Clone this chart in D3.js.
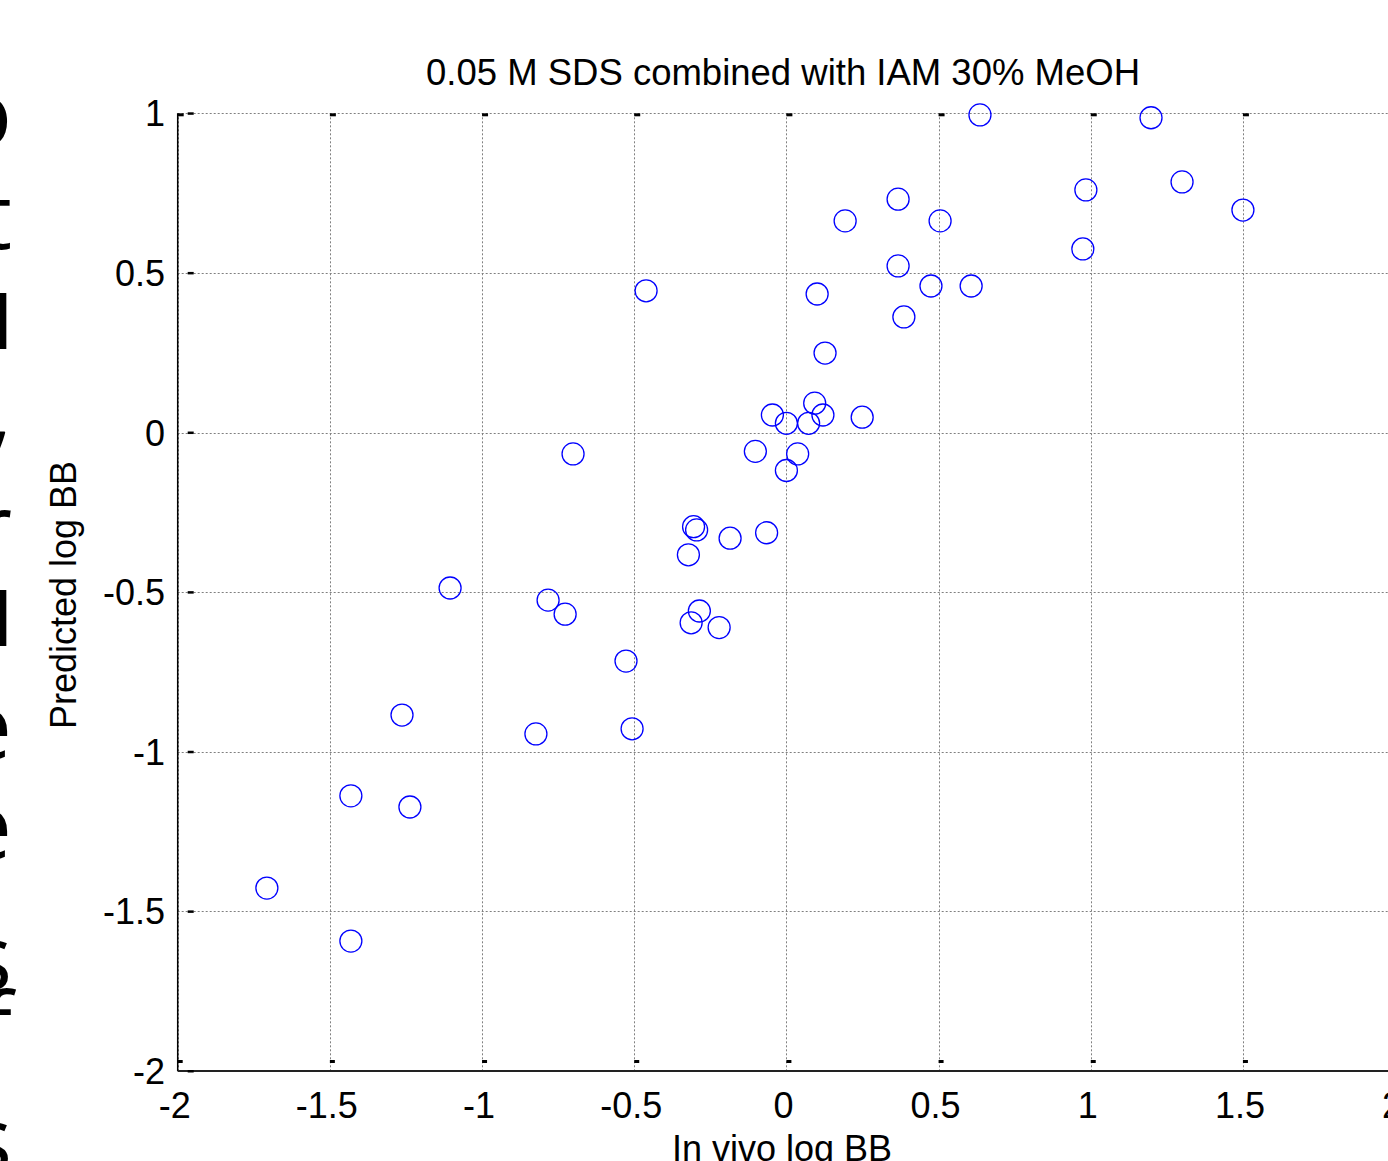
<!DOCTYPE html>
<html>
<head>
<meta charset="utf-8">
<script src="https://cdn.jsdelivr.net/npm/d3@7"></script>
<style>
  html, body { margin: 0; padding: 0; background: #fff; overflow: hidden; }
  svg { display: block; }
  text { font-family: "Liberation Sans", Arial, sans-serif; fill: #000; }
</style>
</head>
<body>
<svg id="chart" width="1388" height="1161"></svg>
<script>
// In vivo log BB (x) vs predicted log BB (y)
var inVivo = [0.636, 1.198, 1.300, 1.500, 0.984, 0.974, 0.367, 0.505, 0.193, 0.367,
  0.475, 0.607, 0.386, 0.101, 0.127, -0.461, -0.046, 0.000, 0.093, 0.073,
  0.120, 0.249, -0.701, -0.102, 0.037, 0.000, -0.305, -0.295, -0.185, -0.065,
  -0.322, -1.105, -0.783, -0.727, -0.286, -0.313, -0.221, -0.527, -1.263, -0.823,
  -0.507, -1.431, -1.237, -1.707, -1.431];
var predicted = [0.995, 0.986, 0.785, 0.697, 0.760, 0.575, 0.731, 0.663, 0.663, 0.522,
  0.459, 0.459, 0.362, 0.434, 0.249, 0.444, 0.055, 0.029, 0.092, 0.029,
  0.055, 0.048, -0.067, -0.059, -0.067, -0.119, -0.295, -0.305, -0.331, -0.314,
  -0.383, -0.487, -0.525, -0.569, -0.559, -0.596, -0.611, -0.716, -0.885, -0.944,
  -0.928, -1.138, -1.173, -1.427, -1.593];

var xTicks = [-2, -1.5, -1, -0.5, 0, 0.5, 1, 1.5, 2];
var yTicks = [-2, -1.5, -1, -0.5, 0, 0.5, 1];
var xTickLabels = ["-2", "-1.5", "-1", "-0.5", "0", "0.5", "1", "1.5", "2"];
var yTickLabels = ["-2", "-1.5", "-1", "-0.5", "0", "0.5", "1"];

var title = "0.05 M SDS combined with IAM 30% MeOH";
var xLabel = "In vivo log BB";
var yLabel = "Predicted log BB";

// ends of slide text lines peeking in at the left edge
var sideLetters = ["o", "t", "d", ",", "r", "d", "e", "e", "s", "f", "s"];
var sideBaselines = [146, 249, 349, 442, 560, 646, 759, 859, 990, 1058, 1172];
var sideBold = [false, false, true, false, false, true, false, false, false, false, false];

var svg = d3.select("#chart");

var x = d3.scaleLinear().domain([-2, 2]).range([177.7, 1395.1]);
var y = d3.scaleLinear().domain([-2, 1]).range([1071, 113.3]);

// side text fragments
svg.append("g")
  .selectAll("text")
  .data(sideLetters)
  .enter()
  .append("text")
  .attr("x", 12)
  .attr("y", function(d, i) { return sideBaselines[i]; })
  .attr("text-anchor", "end")
  .style("font-family", "'Open Sans', 'Noto Sans', sans-serif")
  .style("font-size", function(d, i) { return sideBold[i] ? "74px" : "92px"; })
  .style("font-weight", function(d, i) { return sideBold[i] ? "bold" : "normal"; })
  .text(function(d) { return d; });

// grid
var grid = svg.append("g")
  .attr("stroke", "#808080")
  .attr("stroke-width", 1)
  .attr("stroke-dasharray", "2,2");

grid.selectAll(".vgrid")
  .data(xTicks)
  .enter()
  .append("line")
  .attr("x1", function(d) { return Math.round(x(d)) + 0.5; })
  .attr("x2", function(d) { return Math.round(x(d)) + 0.5; })
  .attr("y1", y(1))
  .attr("y2", y(-2));

grid.selectAll(".hgrid")
  .data(yTicks)
  .enter()
  .append("line")
  .attr("y1", function(d) { return Math.round(y(d)) + 0.5; })
  .attr("y2", function(d) { return Math.round(y(d)) + 0.5; })
  .attr("x1", x(-2))
  .attr("x2", x(2));

// axis lines
svg.append("line")
  .attr("x1", x(-2)).attr("x2", x(-2))
  .attr("y1", y(1)).attr("y2", y(-2))
  .attr("stroke", "#000").attr("stroke-width", 1.5);
svg.append("line")
  .attr("x1", x(-2)).attr("x2", x(2))
  .attr("y1", y(-2)).attr("y2", y(-2))
  .attr("stroke", "#222").attr("stroke-width", 2);

// small inward tick marks
var ticks = svg.append("g").attr("fill", "#000");
ticks.selectAll(".tt")
  .data(xTicks)
  .enter()
  .append("rect")
  .attr("x", function(d) { return x(d); })
  .attr("y", y(1))
  .attr("width", 6)
  .attr("height", 3);
ticks.selectAll(".bt")
  .data(xTicks)
  .enter()
  .append("rect")
  .attr("x", function(d) { return x(d); })
  .attr("y", y(-2) - 11)
  .attr("width", 5)
  .attr("height", 3);
ticks.selectAll(".lt")
  .data(yTicks)
  .enter()
  .append("rect")
  .attr("x", x(-2) + 10)
  .attr("y", function(d) { return y(d) - 1; })
  .attr("width", 6)
  .attr("height", 2.5);

// tick labels
svg.append("g")
  .selectAll("text")
  .data(xTicks)
  .enter()
  .append("text")
  .attr("x", function(d) { return x(d) - 3; })
  .attr("y", 1118)
  .attr("text-anchor", "middle")
  .style("font-size", "36px")
  .text(function(d, i) { return xTickLabels[i]; });

svg.append("g")
  .selectAll("text")
  .data(yTicks)
  .enter()
  .append("text")
  .attr("x", 165)
  .attr("y", function(d) { return y(d) + 13; })
  .attr("text-anchor", "end")
  .style("font-size", "36px")
  .text(function(d, i) { return yTickLabels[i]; });

// title & axis labels
svg.append("text")
  .attr("x", 783)
  .attr("y", 85)
  .attr("text-anchor", "middle")
  .style("font-size", "36.5px")
  .text(title);

svg.append("text")
  .attr("x", 782)
  .attr("y", 1161)
  .attr("text-anchor", "middle")
  .style("font-size", "36px")
  .text(xLabel);

svg.append("text")
  .attr("transform", "translate(76,595) rotate(-90)")
  .attr("text-anchor", "middle")
  .style("font-size", "36px")
  .text(yLabel);

// points
svg.append("g")
  .selectAll("circle")
  .data(inVivo)
  .enter()
  .append("circle")
  .attr("cx", function(d) { return x(d); })
  .attr("cy", function(d, i) { return y(predicted[i]); })
  .attr("r", 11)
  .attr("fill", "none")
  .attr("stroke", "#0000ff")
  .attr("stroke-width", 1.3);
</script>
</body>
</html>
